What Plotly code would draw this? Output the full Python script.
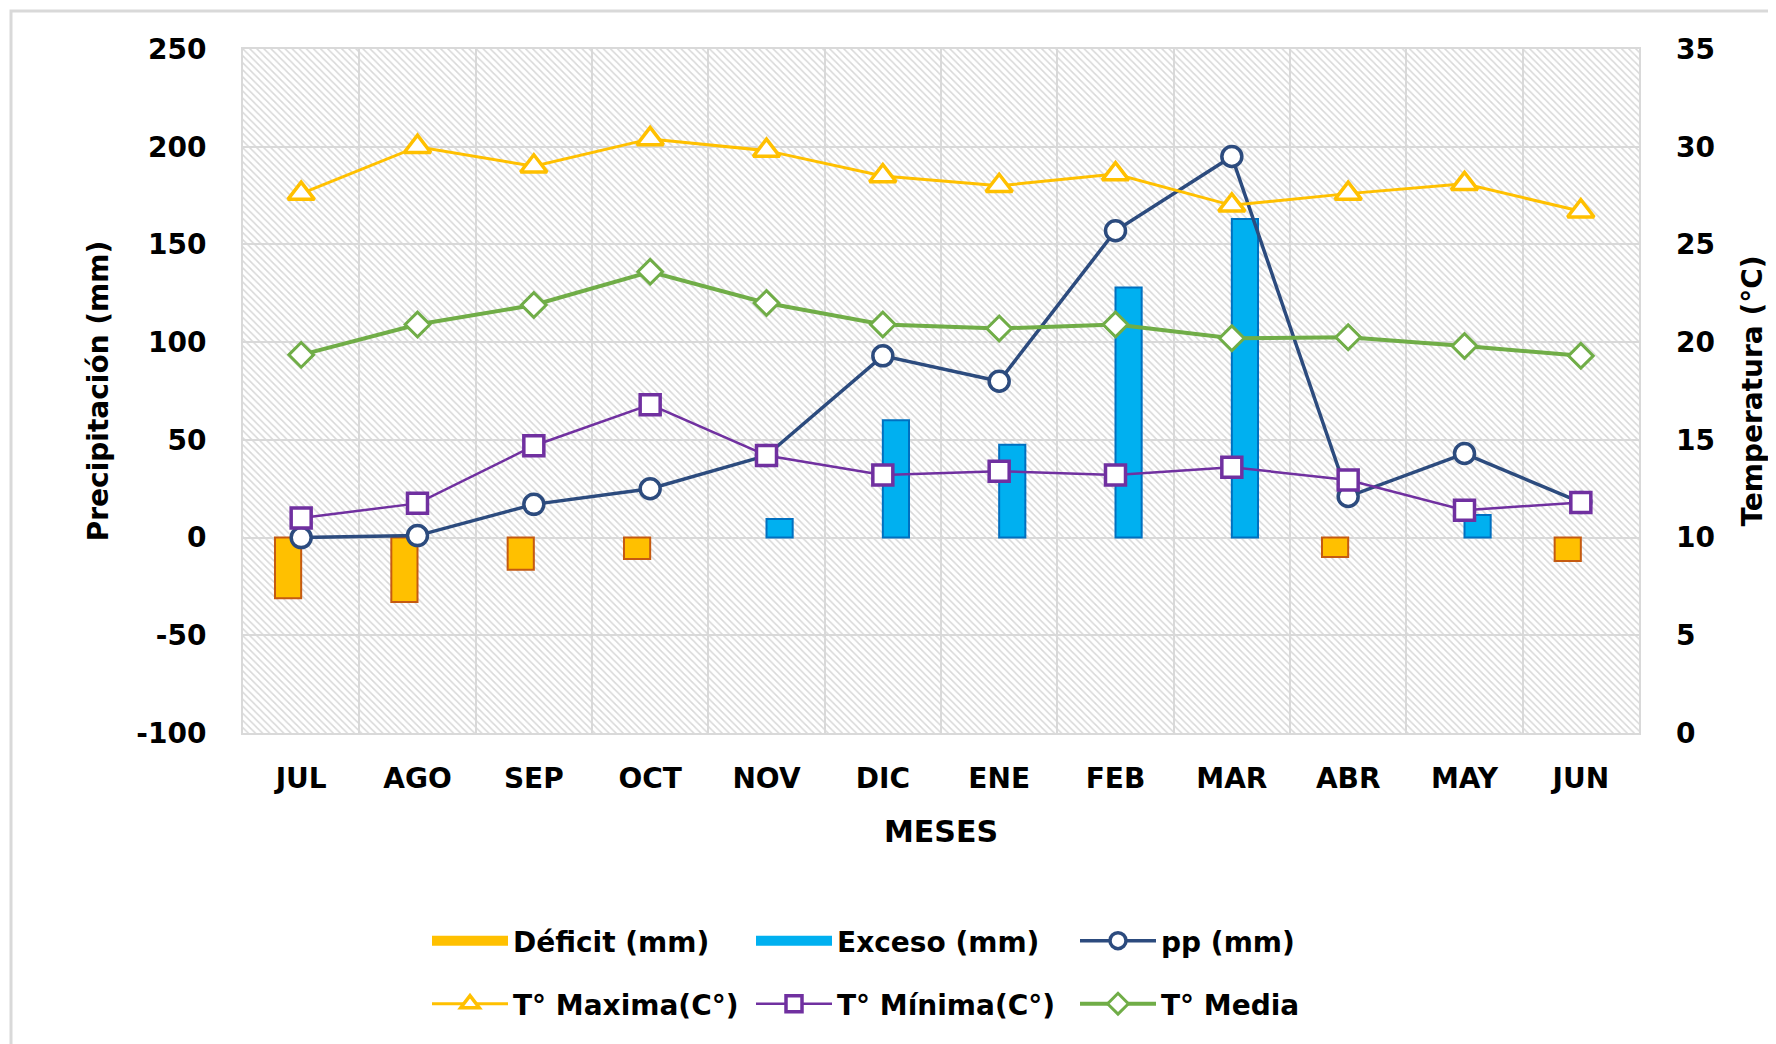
import plotly.graph_objects as go

meses = ["JUL", "AGO", "SEP", "OCT", "NOV", "DIC", "ENE", "FEB", "MAR", "ABR", "MAY", "JUN"]
deficit = [-31, -33, -16.5, -11, None, None, None, None, None, -10, None, -12]
exceso = [None, None, None, None, 9.5, 60, 47.5, 128, 163, None, 11.5, None]
pp = [0, 1, 17, 25, 42, 93, 80, 157, 195, 21, 43, 18]
t_max = [27.6, 30.0, 29.0, 30.4, 29.8, 28.5, 28.0, 28.6, 27.0, 27.6, 28.1, 26.7]
t_min = [11.0, 11.75, 14.7, 16.8, 14.2, 13.2, 13.4, 13.2, 13.6, 12.95, 11.4, 11.8]
t_media = [19.35, 20.9, 21.9, 23.6, 22.0, 20.9, 20.7, 20.9, 20.2, 20.25, 19.8, 19.3]

y_left_ticks = [-100, -50, 0, 50, 100, 150, 200, 250]
y_right_ticks = [0, 5, 10, 15, 20, 25, 30, 35]

W, H = 1776, 1044
OFF = 8  # page body margin
L, R, T, B = 235, 145, 41, 319
PW, PH = W - L - R, H - T - B

def px(xp):
    return (xp - OFF - L) / PW

def py(yp):
    return (H - B - (yp - OFF)) / PH

FONT = "DejaVu Sans"
GRID = "#D9D9D9"
C_DEF, C_DEF_L = "#FFC000", "#C55A11"
C_EXC, C_EXC_L = "#00B0F0", "#0070C0"
C_PP = "#2C4B7E"
C_TMAX, C_TMIN, C_TMED = "#FFC000", "#7030A0", "#70AD47"

fig = go.Figure()

# hatched plot background
fig.add_trace(go.Bar(
    x=[0.5], y=[350], base=[-100], width=[1], xaxis="x", yaxis="y",
    marker=dict(color="#D8D8D8", line=dict(width=0),
                pattern=dict(shape="\\", size=5, solidity=0.3, fillmode="replace")),
    showlegend=False, hoverinfo="skip",
))

fig.add_trace(go.Bar(
    x=meses, y=deficit, name="Déficit (mm)", xaxis="x2", yaxis="y",
    marker=dict(color=C_DEF, line=dict(color=C_DEF_L, width=2)),
    showlegend=False,
))
fig.add_trace(go.Bar(
    x=meses, y=exceso, name="Exceso (mm)", xaxis="x2", yaxis="y",
    marker=dict(color=C_EXC, line=dict(color=C_EXC_L, width=2)),
    showlegend=False,
))
# legend keys for the bar series (wide swatches)
fig.add_trace(go.Scatter(
    x=[meses[0]], y=[None], name="Déficit (mm)", xaxis="x2", yaxis="y", mode="lines",
    line=dict(color=C_DEF, width=16), legend="legend", legendrank=1, hoverinfo="skip",
))
fig.add_trace(go.Scatter(
    x=[meses[0]], y=[None], name="Exceso (mm)", xaxis="x2", yaxis="y", mode="lines",
    line=dict(color=C_EXC, width=16), legend="legend", legendrank=2, hoverinfo="skip",
))
fig.add_trace(go.Scatter(
    x=meses, y=pp, name="pp (mm)", xaxis="x2", yaxis="y", mode="lines+markers",
    line=dict(color=C_PP, width=3.5),
    marker=dict(symbol="circle", size=20, color="white", line=dict(color=C_PP, width=3.5)),
    legend="legend", legendrank=3,
))
fig.add_trace(go.Scatter(
    x=meses, y=t_max, name="T° Maxima(C°)", xaxis="x2", yaxis="y2", mode="lines+markers",
    line=dict(color=C_TMAX, width=3),
    marker=dict(symbol="triangle-up", size=23, color="white", line=dict(color=C_TMAX, width=3.5)),
    legend="legend2", legendrank=4,
))
fig.add_trace(go.Scatter(
    x=meses, y=t_min, name="T° Mínima(C°)", xaxis="x2", yaxis="y2", mode="lines+markers",
    line=dict(color=C_TMIN, width=2.5),
    marker=dict(symbol="square", size=20, color="white", line=dict(color=C_TMIN, width=3.5)),
    legend="legend2", legendrank=5,
))
fig.add_trace(go.Scatter(
    x=meses, y=t_media, name="T° Media", xaxis="x2", yaxis="y2", mode="lines+markers",
    line=dict(color=C_TMED, width=4),
    marker=dict(symbol="diamond", size=19, color="white", line=dict(color=C_TMED, width=3)),
    legend="legend2", legendrank=6,
))

tickfont = dict(family=FONT, size=28, color="#000000", weight="bold")
legfont = dict(family=FONT, size=28, color="#000000", weight="bold")

fig.update_layout(
    width=W, height=H,
    margin=dict(l=L, r=R, t=T, b=B, autoexpand=False),
    paper_bgcolor="white", plot_bgcolor="white",
    barmode="group", bargap=0.55, bargroupgap=0,
    xaxis=dict(range=[0, 1], visible=False, fixedrange=True),
    xaxis2=dict(
        overlaying="x", side="bottom", type="category", categoryorder="array", categoryarray=meses,
        range=[-0.5, len(meses) - 0.5],
        tickson="boundaries", showgrid=True, gridcolor=GRID, gridwidth=2,
        showline=True, linecolor=GRID, linewidth=2, mirror=True,
        ticks="", tickfont=tickfont, ticklabelstandoff=19,
        title=dict(text="MESES", font=dict(family=FONT, size=30, color="#000", weight="bold"), standoff=27),
    ),
    yaxis=dict(
        range=[-100, 250], tickvals=y_left_ticks, ticktext=[str(v) for v in y_left_ticks],
        showgrid=True, gridcolor=GRID, gridwidth=2,
        zeroline=False, showline=True, linecolor=GRID, linewidth=2, mirror=True,
        ticks="", tickfont=tickfont, ticklabelstandoff=29,
        title=dict(text="Precipitación (mm)", font=dict(family=FONT, size=28, color="#000", weight="bold"), standoff=20),
    ),
    yaxis2=dict(
        overlaying="y", side="right", range=[0, 35], tickvals=y_right_ticks,
        ticktext=[str(v) for v in y_right_ticks],
        showgrid=False, zeroline=False, ticks="", tickfont=tickfont, ticklabelstandoff=36,
        title=dict(text="Temperatura (°C)", font=dict(family=FONT, size=28, color="#000", weight="bold"), standoff=28),
    ),
    legend=dict(orientation="h", x=px(427), xanchor="left", y=py(941), yanchor="middle",
                font=legfont, itemwidth=76, entrywidth=233, bgcolor="rgba(0,0,0,0)",
                traceorder="normal"),
    legend2=dict(orientation="h", x=px(427), xanchor="left", y=py(1004), yanchor="middle",
                 font=legfont, itemwidth=76, entrywidth=233, bgcolor="rgba(0,0,0,0)",
                 traceorder="normal"),
    shapes=[dict(type="rect", xref="paper", yref="paper",
                 x0=px(11), x1=px(1810), y0=py(1080), y1=py(11),
                 line=dict(color=GRID, width=3), fillcolor="rgba(0,0,0,0)", layer="above")],
)

fig.write_html("out.html")
